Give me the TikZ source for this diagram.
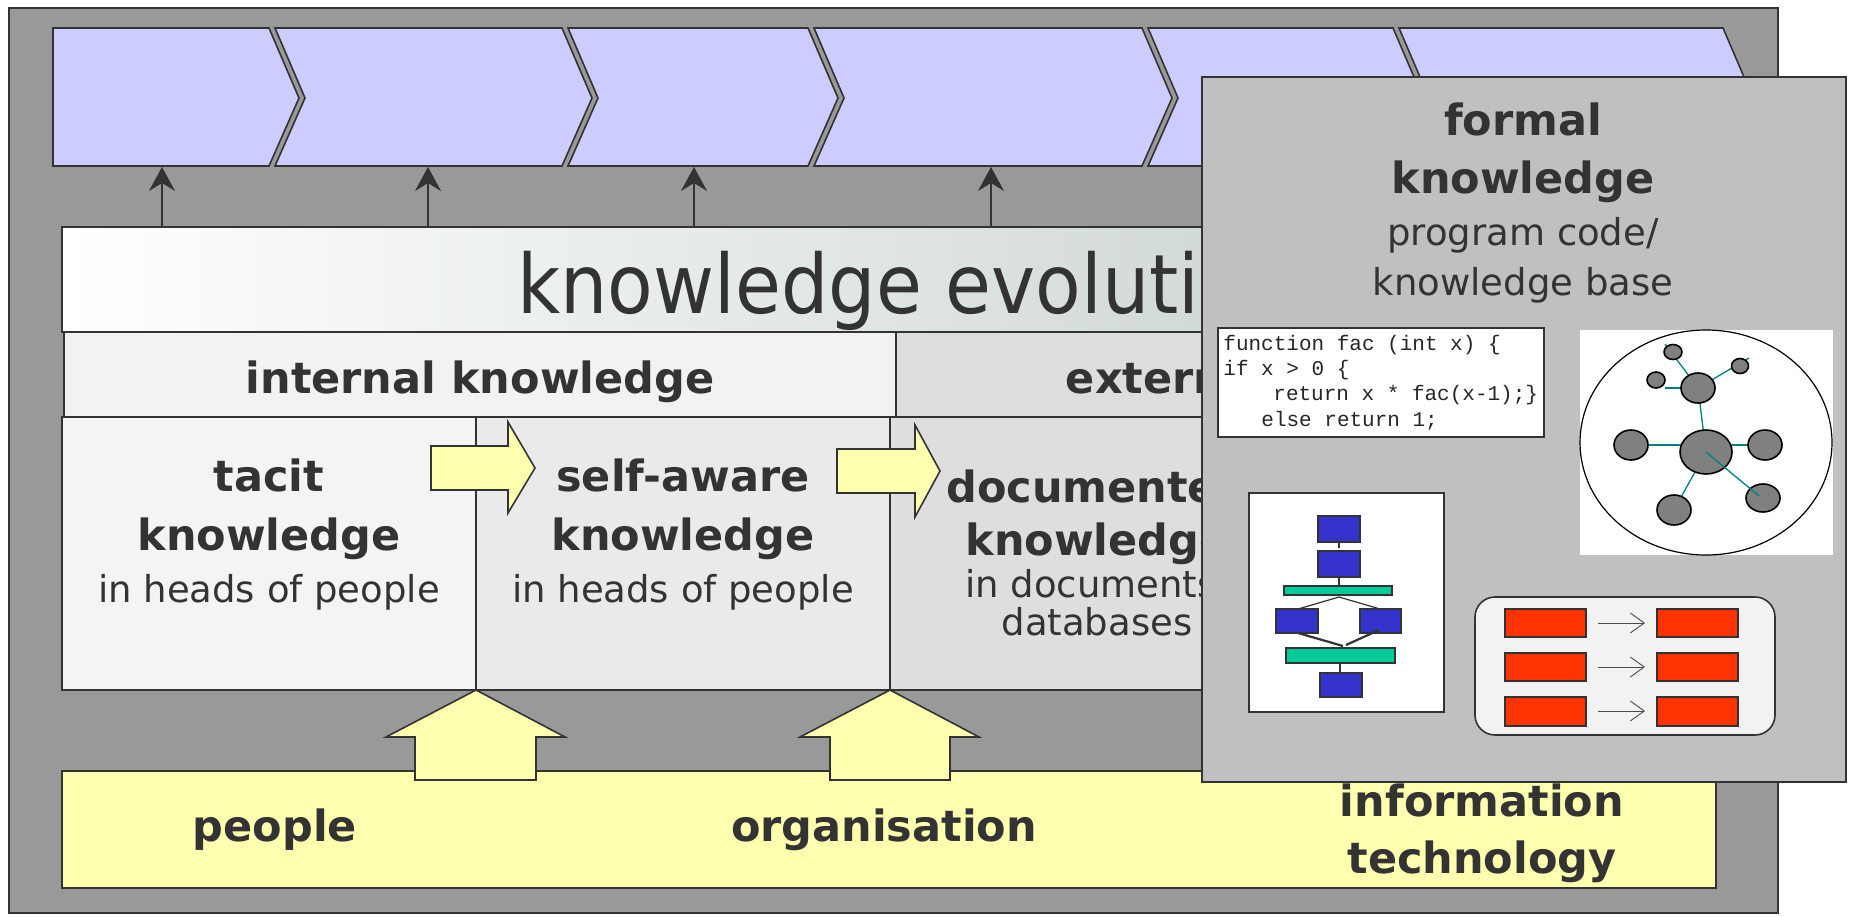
\documentclass[tikz,border=0pt]{standalone}
\usepackage{fontspec}
\setmainfont{DejaVu Sans}
\setmonofont{Liberation Mono}
\newfontfamily\kefont{DejaVu Sans}[FakeStretch=0.91]
\usetikzlibrary{arrows.meta}
\definecolor{lc}{HTML}{333333}
\definecolor{tc}{HTML}{333333}
\definecolor{outerg}{HTML}{999999}
\definecolor{chev}{HTML}{CCCCFF}
\definecolor{kec}{HTML}{BFC9C9}
\definecolor{hint}{HTML}{F2F2F2}
\definecolor{hext}{HTML}{DDDDDD}
\definecolor{ctac}{HTML}{F4F4F4}
\definecolor{cself}{HTML}{EAEAEA}
\definecolor{cdoc}{HTML}{DEDEDE}
\definecolor{cfor}{HTML}{D6D6D6}
\definecolor{yel}{HTML}{FFFFB0}
\definecolor{formalg}{HTML}{C0C0C0}
\definecolor{fblue}{HTML}{3333CC}
\definecolor{fgreen}{HTML}{00CC99}
\definecolor{fred}{HTML}{FF3300}
\definecolor{tealc}{HTML}{008080}
\definecolor{ngray}{HTML}{808080}
\definecolor{panel}{HTML}{F2F2F2}
\begin{document}
\begin{tikzpicture}[x=0.5pt,y=-0.5pt,line join=miter,
  ln/.style={draw=lc,line width=0.8pt},
  chevst/.style={draw=lc,line width=0.8pt,fill=chev},
  yarrow/.style={draw=lc,line width=0.8pt,fill=yel},
  upconn/.style={draw=lc,line width=0.6pt,-{Stealth[length=12pt,width=13pt,inset=4pt]}},
  bt/.style={text=tc,inner sep=0pt,anchor=base,font=\fontsize{21.5}{26}\selectfont\bfseries},
  rt/.style={text=tc,inner sep=0pt,anchor=base,font=\fontsize{18.5}{22}\selectfont},
  mono/.style={text=black!85,inner sep=0pt,anchor=base west,font=\ttfamily\fontsize{10.5}{12}\selectfont},
  gedge/.style={draw=tealc,line width=0.65pt},
  gnode/.style={draw=black,line width=0.8pt,fill=ngray},
  fbox/.style={draw=lc,line width=0.8pt},
  rconn/.style={draw=black!70,line width=0.45pt,-{Straight Barb[length=7pt,width=10pt]}}]
\useasboundingbox (0,0) rectangle (1852,916);
\fill[white] (0,0) rectangle (1852,916);
% outer panel
\draw[ln,fill=outerg] (9,8) rectangle (1778,913);
% chevrons
\draw[chevst] (53,28) -- (269,28) -- (299,98) -- (269,166) -- (53,166) -- cycle;
\foreach \l/\r in {275/562,568/808,814/1142,1148/1393,1399/1723}
  \draw[chevst] (\l,28) -- (\r,28) -- (\r+30,98) -- (\r,166) -- (\l,166) -- (\l+30,98) -- cycle;
% knowledge evolution box
\shade[left color=white,right color=kec] (62,227) rectangle (1716,332);
\draw[ln] (62,227) rectangle (1716,332);
% connectors to chevrons
\coordinate (ke1) at (162,227); \coordinate (ch1) at (162,167);
\coordinate (ke2) at (428,227); \coordinate (ch2) at (428,167);
\coordinate (ke3) at (694,227); \coordinate (ch3) at (694,167);
\coordinate (ke4) at (991,227); \coordinate (ch4) at (991,167);
\draw[upconn] (ke1) -- (ch1);
\draw[upconn] (ke2) -- (ch2);
\draw[upconn] (ke3) -- (ch3);
\draw[upconn] (ke4) -- (ch4);
% headers
\draw[ln,fill=hint] (64,332) rectangle (896,417);
\draw[ln,fill=hext] (896,332) rectangle (1716,417);
\node[bt] (hin) at (480,393) {internal knowledge};
% columns
\draw[ln,fill=ctac] (62,417) rectangle (476,690);
\draw[ln,fill=cself] (476,417) rectangle (890,690);
\draw[ln,fill=cdoc] (890,417) rectangle (1306,690);
\draw[ln,fill=cfor] (1306,417) rectangle (1716,690);
\node[bt] (tac1) at (269,491) {tacit};
\node[bt] (tac2) at (269,550) {knowledge};
\node[rt] (tac3) at (269,602) {in heads of people};
\node[bt] (sa1) at (683,491) {self-aware};
\node[bt] (sa2) at (683,550) {knowledge};
\node[rt] (sa3) at (683,602) {in heads of people};
% texts that run under the formal-knowledge panel
\begin{scope}
\clip (0,0) rectangle (1202,916);
\node[anchor=base west,text=tc,inner sep=0pt,font=\kefont\fontsize{41}{48}\selectfont] (ket) at (517,313) {knowledge evolution};
\node[bt] (hex) at (1306,393) {external knowledge};
\node[bt] (doc1) at (1097,502) {documented};
\node[bt] (doc2) at (1097,555) {knowledge};
\node[rt] (doc3) at (1097,597) {in documents/};
\node[rt] (doc4) at (1097,635) {databases};
\end{scope}
% horizontal arrows
\draw[yarrow] (431,446) -- (508,446) -- (508,422) -- (535,468) -- (508,513) -- (508,490) -- (431,490) -- cycle;
\draw[yarrow] (837,449) -- (915,449) -- (915,425) -- (940,471) -- (915,517) -- (915,493) -- (837,493) -- cycle;
% yellow bar
\draw[ln,fill=yel] (62,771) rectangle (1716,888);
\draw[yarrow] (415,780) -- (415,737) -- (386,737) -- (476,690) -- (565,737) -- (536,737) -- (536,780) -- cycle;
\draw[yarrow] (830,780) -- (830,737) -- (800,737) -- (890,690) -- (979,737) -- (950,737) -- (950,780) -- cycle;
\node[bt] (lpeople) at (275,841) {people};
\node[bt] (lorg) at (884,841) {organisation};
\node[bt] (linfo) at (1482,816) {information};
\node[bt] (ltech) at (1482,873) {technology};
% formal knowledge overlay
\draw[ln,fill=formalg] (1202,77) rectangle (1846,782);
\node[bt] (f1) at (1523,135) {formal};
\node[bt] (f2) at (1523,193) {knowledge};
\node[rt] (f3) at (1523,245) {program code/};
\node[rt] (f4) at (1523,295) {knowledge base};
% code box
\draw[fbox,fill=white] (1218,328) rectangle (1544,437);
\node[mono] (code1) at (1223,350) {function fac (int x) \{};
\node[mono] (code2) at (1223,375) {if x > 0 \{};
\node[mono] (code3) at (1273,400) {return x * fac(x-1);\}};
\node[mono] (code4) at (1261,426) {else return 1;};
% graph picture
\fill[white] (1580,330) rectangle (1833,555);
\draw[black,line width=0.6pt] (1706,442.5) ellipse [x radius=63pt,y radius=56.25pt];
\coordinate (gs1) at (1673,352);
\coordinate (gs2) at (1740,366);
\coordinate (gs3) at (1656,380);
\coordinate (gm) at (1698,388);
\coordinate (gb) at (1706,452);
\coordinate (gl) at (1631,445);
\coordinate (gr) at (1765,445);
\coordinate (gbl) at (1674,510);
\coordinate (gbr) at (1763,498);
\coordinate (gs1x) at (1665,344);
\coordinate (gs2x) at (1749,358);
\coordinate (gs3x) at (1665,388);
\coordinate (gbrx) at (1759,496);
\draw[gedge] (gs1x) -- (gm);
\draw[gedge] (gm) -- (gs2x);
\draw[gedge] (gs3x) -- (gm);
\draw[gedge] (gm) -- (gb);
\draw[gedge] (gl) -- (gr);
\draw[gedge] (gb) -- (gbl);
\draw[gnode] (gs1) ellipse [x radius=4.5pt,y radius=3.75pt];
\draw[gnode] (gs2) ellipse [x radius=4.25pt,y radius=3.75pt];
\draw[gnode] (gs3) ellipse [x radius=4.5pt,y radius=4pt];
\draw[gnode] (gm) ellipse [x radius=8.5pt,y radius=7.5pt];
\draw[gnode] (gb) ellipse [x radius=13pt,y radius=11pt];
\draw[gnode] (gl) ellipse [x radius=8.5pt,y radius=7.5pt];
\draw[gnode] (gr) ellipse [x radius=8.5pt,y radius=7.5pt];
\draw[gnode] (gbl) ellipse [x radius=8.5pt,y radius=7.5pt];
\draw[gnode] (gbr) ellipse [x radius=8.5pt,y radius=7pt];
\draw[gedge] (gb) -- (gbrx);
% flowchart picture
\draw[fbox,fill=white] (1249,493) rectangle (1444,712);
\draw[fbox,fill=fblue] (1318,516) rectangle (1360,542);
\draw[fbox,fill=fblue] (1318,551) rectangle (1360,577);
\draw[fbox,fill=fgreen] (1284,586) rectangle (1392,595);
\draw[fbox,fill=fblue] (1276,609) rectangle (1318,633);
\draw[fbox,fill=fblue] (1360,609) rectangle (1401,633);
\draw[fbox,fill=fgreen] (1286,648) rectangle (1395,663);
\draw[fbox,fill=fblue] (1320,673) rectangle (1362,697);
\draw[lc,line width=0.6pt] (1339,542) -- (1339,548);
\draw[lc,line width=0.6pt] (1339,577) -- (1339,586);
\draw[lc,line width=0.6pt] (1298,609) -- (1339,597) -- (1380,609);
\draw[lc,line width=1.1pt] (1298,633) -- (1343,646);
\draw[lc,line width=1.1pt] (1379,630) -- (1346,645);
\draw[lc,line width=0.6pt] (1340,663) -- (1340,673);
% rules picture
\draw[fbox,fill=panel,rounded corners=10pt] (1475,597) rectangle (1775,735);
\foreach \ya/\yb in {609/637,653/681,697/726} {
  \draw[fbox,fill=fred] (1505,\ya) rectangle (1586,\yb);
  \draw[fbox,fill=fred] (1657,\ya) rectangle (1738,\yb);
}
\coordinate (ra1) at (1598,623); \coordinate (rb1) at (1645,623);
\coordinate (ra2) at (1598,667); \coordinate (rb2) at (1645,667);
\coordinate (ra3) at (1598,711); \coordinate (rb3) at (1645,711);
\draw[rconn] (ra1) -- (rb1);
\draw[rconn] (ra2) -- (rb2);
\draw[rconn] (ra3) -- (rb3);
\end{tikzpicture}
\end{document}
